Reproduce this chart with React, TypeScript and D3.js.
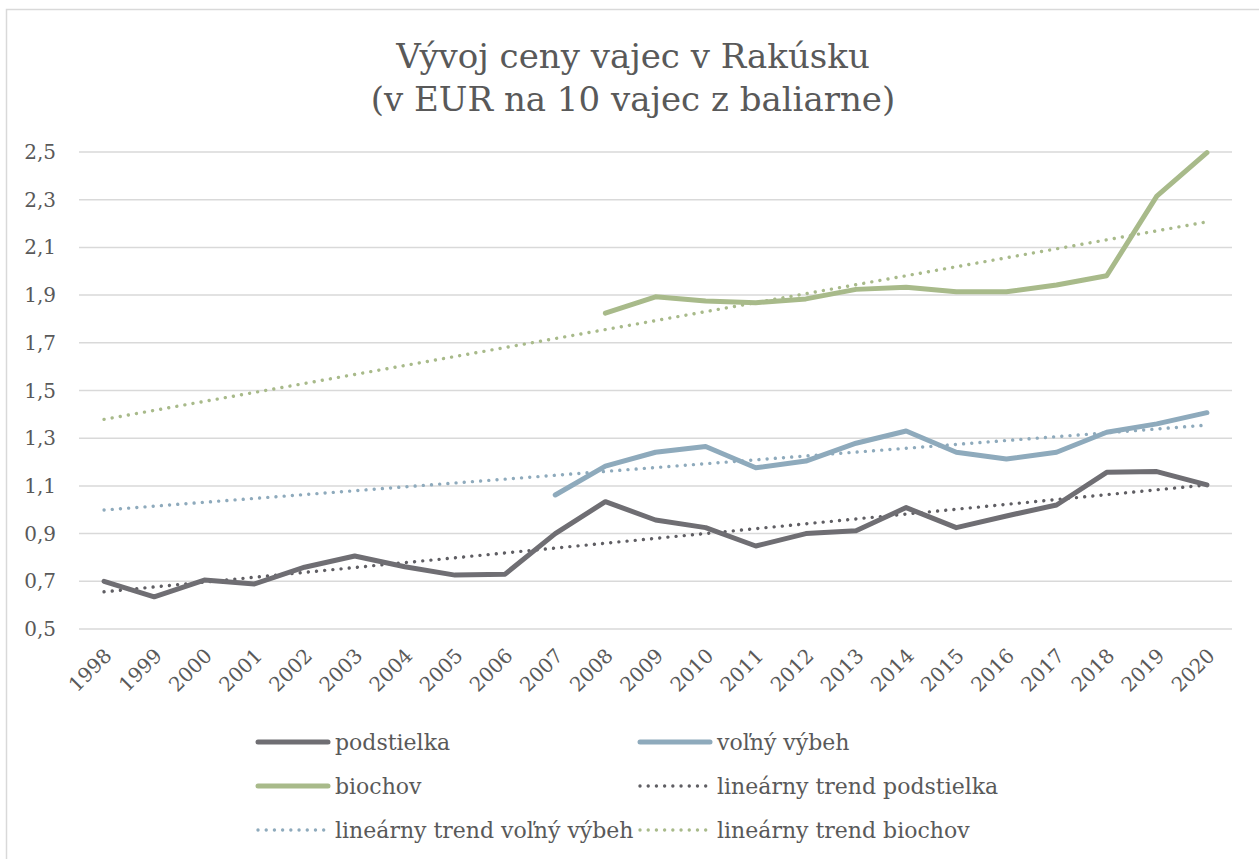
import React from 'react';
import * as d3 from 'd3';

const years = ['1998', '1999', '2000', '2001', '2002', '2003', '2004', '2005', '2006', '2007', '2008',
  '2009', '2010', '2011', '2012', '2013', '2014', '2015', '2016', '2017', '2018', '2019', '2020'];

const podstielka = [0.70, 0.635, 0.705, 0.689, 0.759, 0.806, 0.761, 0.726, 0.73, 0.90, 1.034,
  0.957, 0.925, 0.848, 0.90, 0.912, 1.009, 0.925, 0.974, 1.02, 1.157, 1.16, 1.104];

const volnyVybeh = [null, null, null, null, null, null, null, null, null, 1.062, 1.183,
  1.241, 1.265, 1.176, 1.204, 1.279, 1.33, 1.241, 1.213, 1.241, 1.325, 1.36, 1.407];

const biochov = [null, null, null, null, null, null, null, null, null, null, 1.824,
  1.893, 1.875, 1.868, 1.884, 1.924, 1.933, 1.914, 1.914, 1.942, 1.981, 2.315, 2.497];

// trend lines: value at first and last year
const trendYears = ['1998', '2020'];
const trendPodstielka = [0.656, 1.104];
const trendVolny = [0.999, 1.355];
const trendBiochov = [1.379, 2.207];

const yTicks = [0.5, 0.7, 0.9, 1.1, 1.3, 1.5, 1.7, 1.9, 2.1, 2.3, 2.5];

const colors = {
  podstielka: '#6f6e73',
  volny: '#8eaabc',
  biochov: '#a8ba8a',
  trendPodstielka: '#5f5e63',
  trendVolny: '#8eaabc',
  trendBiochov: '#a8ba8a',
};

const FONT = '"DejaVu Serif", serif';
const TEXT = '#595959';
const DOTS = '0.01 8.2';

type Pt = { year: string; v: number | null };

export default function App() {
  const width = 1259;
  const height = 859;
  const m = { l: 79, r: 1232, t: 152, b: 629 };

  const x = d3.scaleBand<string>().domain(years).range([m.l, m.r]).padding(0);
  const cx = (yr: string) => (x(yr) ?? 0) + x.bandwidth() / 2;
  const y = d3.scaleLinear().domain([0.5, 2.5]).range([m.b, m.t]);

  const line = d3.line<Pt>()
    .defined(d => d.v != null)
    .x(d => cx(d.year))
    .y(d => y(d.v as number));

  const toPts = (vals: (number | null)[], ys: string[] = years): Pt[] =>
    vals.map((v, i) => ({ year: ys[i], v }));

  const series = [
    { key: 'tp', vals: trendPodstielka, ys: trendYears, color: colors.trendPodstielka, dotted: true },
    { key: 'tv', vals: trendVolny, ys: trendYears, color: colors.trendVolny, dotted: true },
    { key: 'tb', vals: trendBiochov, ys: trendYears, color: colors.trendBiochov, dotted: true },
    { key: 'p', vals: podstielka, ys: years, color: colors.podstielka, dotted: false },
    { key: 'v', vals: volnyVybeh, ys: years, color: colors.volny, dotted: false },
    { key: 'b', vals: biochov, ys: years, color: colors.biochov, dotted: false },
  ];

  const legend = [
    { label: 'podstielka', color: colors.podstielka, dotted: false, col: 0, row: 0 },
    { label: 'voľný výbeh', color: colors.volny, dotted: false, col: 1, row: 0 },
    { label: 'biochov', color: colors.biochov, dotted: false, col: 0, row: 1 },
    { label: 'lineárny trend podstielka', color: colors.trendPodstielka, dotted: true, col: 1, row: 1 },
    { label: 'lineárny trend voľný výbeh', color: colors.trendVolny, dotted: true, col: 0, row: 2 },
    { label: 'lineárny trend biochov', color: colors.trendBiochov, dotted: true, col: 1, row: 2 },
  ];
  const legX = [258, 640];
  const legY = [742, 786, 830];

  return (
    <svg width={width} height={height} style={{ position: 'absolute', left: 0, top: 0, background: '#fff' }}
      fontFamily={FONT}>
      <rect x={6.5} y={9.5} width={1270} height={870} fill="#fff" stroke="#d9d9d9" strokeWidth={1.5} />

      <text x={633} y={68} textAnchor="middle" fontSize={34} fill={TEXT}>Vývoj ceny vajec v Rakúsku</text>
      <text x={633} y={111} textAnchor="middle" fontSize={34} fill={TEXT}>(v EUR na 10 vajec z baliarne)</text>

      {yTicks.map(t => (
        <g key={t}>
          <line x1={m.l} x2={m.r} y1={y(t)} y2={y(t)} stroke="#d9d9d9" strokeWidth={1.5} />
          <text x={56} y={y(t)} dy="0.35em" textAnchor="end" fontSize={20} fill={TEXT}>
            {t.toFixed(1).replace('.', ',')}
          </text>
        </g>
      ))}

      {years.map(yr => (
        <text key={yr} transform={`translate(${cx(yr) + 9},${m.b + 28}) rotate(-45)`}
          textAnchor="end" fontSize={20} fill={TEXT}>{yr}</text>
      ))}

      {series.map(s => (
        <path key={s.key} d={line(toPts(s.vals, s.ys)) ?? ''} fill="none" stroke={s.color}
          strokeWidth={s.dotted ? 3.4 : 5} strokeLinecap="round" strokeLinejoin="round"
          strokeDasharray={s.dotted ? DOTS : undefined} />
      ))}

      {legend.map(l => (
        <g key={l.label}>
          <line x1={legX[l.col]} x2={legX[l.col] + 70} y1={legY[l.row]} y2={legY[l.row]} stroke={l.color}
            strokeWidth={l.dotted ? 3.4 : 5} strokeLinecap="round" strokeDasharray={l.dotted ? DOTS : undefined} />
          <text x={legX[l.col] + 77} y={legY[l.row]} dy="0.35em" fontSize={22} fill={TEXT}>{l.label}</text>
        </g>
      ))}
    </svg>
  );
}
